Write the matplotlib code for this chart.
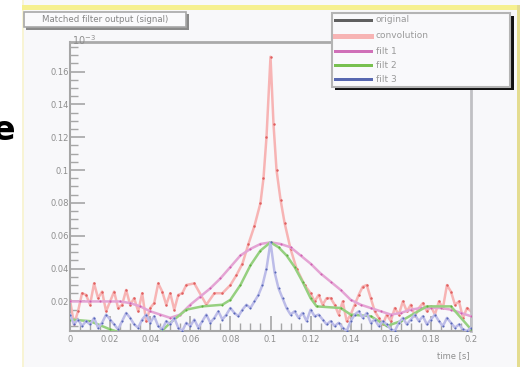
import matplotlib
matplotlib.use("Agg")
import matplotlib.pyplot as plt
from matplotlib.patches import Rectangle
from matplotlib.lines import Line2D
from matplotlib.ticker import FixedLocator, FixedFormatter, MultipleLocator

W, H = 520, 367

# sample times for the narrow filter trace (s)
t = [round(i * 0.002, 3) for i in range(101)]

# convolution output (x1e-3): 2 ms grid, denser around the peak
conv_t = ([round(i * 0.002, 3) for i in range(30)]
          + [0.062, 0.068, 0.072, 0.076, 0.080, 0.083, 0.086, 0.089, 0.092, 0.095,
             0.0965, 0.098, 0.100, 0.1015, 0.103, 0.105, 0.107, 0.110, 0.113, 0.117,
             0.120]
          + [round(0.122 + i * 0.002, 3) for i in range(40)])
conv = [0.021, 0.006, 0.014, 0.025, 0.024, 0.018, 0.031, 0.022, 0.026, 0.014,
        0.020, 0.026, 0.016, 0.018, 0.027, 0.018, 0.022, 0.014, 0.025, 0.008,
        0.016, 0.019, 0.031, 0.026, 0.018, 0.025, 0.015, 0.024, 0.025, 0.030,
        0.031, 0.018, 0.025, 0.025, 0.030, 0.036, 0.043, 0.055, 0.066, 0.080,
        0.095, 0.120, 0.169, 0.128, 0.100, 0.082, 0.068, 0.052, 0.040, 0.030,
        0.025,
        0.020, 0.024, 0.018, 0.022, 0.022, 0.018, 0.012, 0.020, 0.008, 0.012,
        0.018, 0.024, 0.029, 0.030, 0.022, 0.014, 0.010, 0.006, 0.012, 0.008,
        0.016, 0.012, 0.020, 0.014, 0.018, 0.011, 0.016, 0.019, 0.014, 0.017,
        0.012, 0.020, 0.016, 0.030, 0.026, 0.018, 0.020, 0.010, 0.016, 0.014]

# filter 3 output (narrow)
filt3 = [0.012, 0.006, 0.009, 0.005, 0.008, 0.006, 0.010, 0.004, 0.007, 0.012,
         0.009, 0.006, 0.003, 0.008, 0.013, 0.010, 0.006, 0.004, 0.009, 0.012,
         0.007, 0.011, 0.005, 0.003, 0.008, 0.006, 0.010, 0.004, 0.002, 0.007,
         0.005, 0.009, 0.004, 0.008, 0.012, 0.007, 0.010, 0.014, 0.009, 0.012,
         0.016, 0.013, 0.011, 0.015, 0.018, 0.016, 0.020, 0.024, 0.030, 0.040,
         0.056, 0.038, 0.028, 0.022, 0.016, 0.012, 0.014, 0.010, 0.013, 0.008,
         0.015, 0.011, 0.012, 0.009, 0.006, 0.008, 0.005, 0.007, 0.004, 0.002,
         0.008, 0.012, 0.014, 0.010, 0.013, 0.007, 0.009, 0.005, 0.008, 0.006,
         0.003, 0.002, 0.007, 0.010, 0.006, 0.009, 0.012, 0.008, 0.011, 0.006,
         0.009, 0.012, 0.008, 0.005, 0.010, 0.007, 0.004, 0.006, 0.003, 0.002,
         0.004]

# filter 1 output (broad)
filt1_t = [0.000, 0.005, 0.010, 0.015, 0.020, 0.025, 0.030, 0.035, 0.040, 0.045,
           0.050, 0.055, 0.060, 0.065, 0.070, 0.075, 0.080, 0.085, 0.090, 0.095,
           0.100, 0.105, 0.110, 0.115, 0.120, 0.125, 0.130, 0.135, 0.140, 0.145,
           0.150, 0.155, 0.160, 0.165, 0.170, 0.175, 0.180, 0.185, 0.190, 0.195,
           0.200]
filt1 = [0.020, 0.020, 0.020, 0.020, 0.020, 0.020, 0.019, 0.017, 0.014, 0.012,
         0.010, 0.012, 0.018, 0.023, 0.028, 0.034, 0.041, 0.048, 0.052, 0.055,
         0.056, 0.055, 0.053, 0.048, 0.043, 0.037, 0.032, 0.027, 0.021, 0.018,
         0.016, 0.014, 0.012, 0.013, 0.015, 0.016, 0.016, 0.016, 0.015, 0.013,
         0.011]

# filter 2 output
filt2_t = [0.000, 0.010, 0.020, 0.025, 0.045, 0.050, 0.058, 0.066, 0.076, 0.080,
           0.085, 0.090, 0.095, 0.100, 0.104, 0.108, 0.112, 0.116, 0.120, 0.123,
           0.135, 0.140, 0.150, 0.158, 0.165, 0.178, 0.190, 0.200]
filt2 = [0.009, 0.008, 0.003, 0.001, 0.001, 0.007, 0.015, 0.017, 0.018, 0.021,
         0.030, 0.042, 0.051, 0.056, 0.053, 0.048, 0.041, 0.032, 0.022, 0.017,
         0.016, 0.012, 0.011, 0.005, 0.008, 0.017, 0.017, 0.003]

xticks = [0, 0.02, 0.04, 0.06, 0.08, 0.1, 0.12, 0.14, 0.16, 0.18, 0.2]
xlabels = ["0", "0.02", "0.04", "0.06", "0.08", "0.1", "0.12", "0.14", "0.16", "0.18", "0.2"]
yticks = [0.02, 0.04, 0.06, 0.08, 0.1, 0.12, 0.14, 0.16]
ylabels = ["0.02", "0.04", "0.06", "0.08", "0.1", "0.12", "0.14", "0.16"]
names = ["original", "convolution", "filt 1", "filt 2", "filt 3"]

BG = "#f8f8fa"
GRAY = "#a6a6a6"
TXT = "#8e8e8e"


def fx(px):
    return px / W


def fy(py):
    return 1 - py / H


def box(x0, y0, x1, y1, **kw):
    # rectangle in pixel coordinates of the canvas
    fig.patches.append(Rectangle((fx(x0), fy(y1)), fx(x1) - fx(x0), fy(y0) - fy(y1),
                                 transform=fig.transFigure, **kw))


fig = plt.figure(figsize=(W / 100, H / 100), dpi=100, facecolor=BG)

# white margin and yellow canvas edges
box(0, 0, 22, H, facecolor="white", edgecolor="none", zorder=0)
box(22, 0, 24, H, facecolor="#f8f4d4", edgecolor="none", zorder=0)
box(22, 5, W, 10, facecolor="#f6f090", edgecolor="none", zorder=0)
box(517, 5, 520, H, facecolor="#e4dc90", edgecolor="none", zorder=0)
fig.text(fx(15), fy(140), "e", fontsize=24, fontweight="bold", color="black",
         ha="right", va="baseline")

ax = fig.add_axes([fx(70), fy(331), fx(471) - fx(70), fy(42) - fy(331)])
ax.set_facecolor(BG)

ax.plot(conv_t, conv, color="#f7b4b4", lw=1.8, marker="o", ms=1.8,
        mfc="#e06060", mec="none", zorder=2)
ax.plot(filt1_t, filt1, color="#e4a4d4", lw=1.8, marker="o", ms=1.5,
        mfc="#d060b0", mec="none", zorder=3)
ax.plot(filt2_t, filt2, color="#96d080", lw=1.8, marker="o", ms=1.5,
        mfc="#60b040", mec="none", zorder=4)
ax.plot(t, filt3, color="#bcbce8", lw=1.8, marker="o", ms=1.5,
        mfc="#5868b8", mec="none", zorder=5)

ax.set_xlim(0, 0.2)
ax.set_ylim(0.002, 0.178)

ax.xaxis.set_major_locator(FixedLocator(xticks))
ax.xaxis.set_major_formatter(FixedFormatter(xlabels))
ax.xaxis.set_minor_locator(MultipleLocator(0.005))
ax.yaxis.set_major_locator(FixedLocator(yticks))
ax.yaxis.set_major_formatter(FixedFormatter(ylabels))
ax.yaxis.set_minor_locator(MultipleLocator(0.005))
ax.tick_params(which="major", direction="in", length=11, width=1.2, color=GRAY,
               labelsize=6, labelcolor=TXT, pad=3)
ax.tick_params(which="minor", direction="in", length=6, width=1.0, color=GRAY)
ax.tick_params(axis="y", pad=1)

for side in ["left", "bottom"]:
    ax.spines[side].set_color(GRAY)
    ax.spines[side].set_linewidth(1.5)
ax.spines["top"].set_color("#aaaaaa")
ax.spines["top"].set_linewidth(2)
ax.spines["right"].set_color("#c0c0c4")
ax.spines["right"].set_linewidth(2)

fig.text(fx(470), fy(358), "time [s]", fontsize=6, color=TXT, ha="right", va="baseline")
fig.text(fx(72), fy(45), r"$10^{-3}$", fontsize=7, color=TXT, ha="left", va="baseline")

# title pave with shadow
box(26, 14, 189, 30, facecolor="#8a8a8a", edgecolor="none", zorder=5)
box(24, 12, 186, 27, facecolor="#fafafc", edgecolor="#a8a8a8", lw=1.2, zorder=6)
fig.text(fx(105), fy(20), "Matched filter output (signal)", fontsize=6.2,
         color="#858585", ha="center", va="center", zorder=7)

# legend pave with shadow
box(335, 16, 514, 90, facecolor="#111111", edgecolor="none", zorder=5)
box(332, 13, 510, 87, facecolor="#f9f9fb", edgecolor="#b4b4b4", lw=1.5, zorder=6)
leg_y = [20, 35.5, 51, 65, 79]
leg_c = ["#606060", "#f7b4b4", "#d070b8", "#78c050", "#5868b0"]
leg_w = [3, 5, 3, 3, 3]
for yy, c, lw, name in zip(leg_y, leg_c, leg_w, names):
    fig.lines.append(Line2D([fx(335), fx(371)], [fy(yy), fy(yy)], color=c, lw=lw * 0.72,
                            transform=fig.transFigure, zorder=7))
    fig.text(fx(376), fy(yy), name, fontsize=6.5, color="#9a9a9a",
             ha="left", va="center", zorder=7)

fig.savefig("out.png", dpi=100, facecolor=BG)
